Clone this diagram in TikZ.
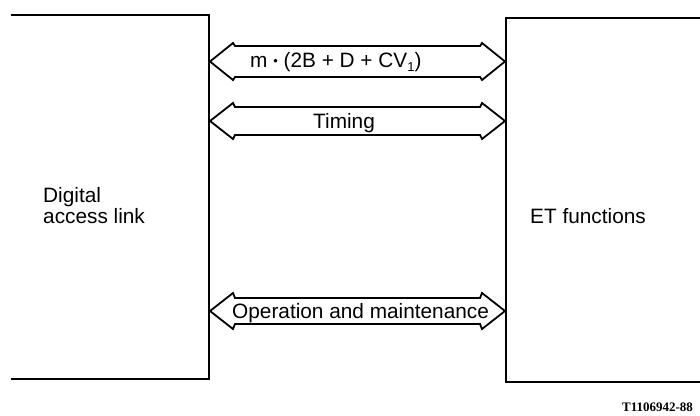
\documentclass[tikz,border=0pt]{standalone}
\usepackage{fontspec}
\setmainfont{Liberation Sans}
\newfontfamily\labelfont{Liberation Serif}
\begin{document}
\begin{tikzpicture}[x=1pt,y=-1pt,
  boxline/.style={line width=2.6pt,line cap=rect},
  dblarrow/.style={line width=1.8pt,line join=miter},
  lbl/.style={inner sep=0pt,anchor=base west,font=\fontsize{20.8}{21}\selectfont},
  tag/.style={inner sep=0pt,anchor=base west,font=\labelfont\bfseries\fontsize{13}{13}\selectfont}]
\useasboundingbox (0,0) rectangle (700,415);
% left box (open on the left)
\coordinate (LTL) at (12,15);
\coordinate (LTR) at (209,15);
\coordinate (LBR) at (209,379);
\coordinate (LBL) at (12,379);
\draw[boxline] (LTL) -- (LTR) -- (LBR) -- (LBL);
% right box (open on the right)
\coordinate (RTR) at (700,18);
\coordinate (RTL) at (506,18);
\coordinate (RBL) at (506,382);
\coordinate (RBR) at (700,382);
\draw[boxline] (RTR) -- (RTL) -- (RBL) -- (RBR);
% double arrows: #1 mid y, #2 shaft half, #3 head half
\newcommand\twoway[4]{%
  \draw[dblarrow] (210,#1) coordinate (#4-l)
    -- (233,#1-#3) -- (235,#1-#2) -- (480,#1-#2) -- (482,#1-#3)
    -- (505,#1) coordinate (#4-r)
    -- (482,#1+#3) -- (480,#1+#2) -- (235,#1+#2) -- (233,#1+#3) -- cycle;}
\twoway{61.5}{15.5}{18.5}{a}
\twoway{121}{14}{18}{b}
\twoway{311}{13}{18}{c}
% labels
\node[lbl] (ta) at (250,67) {m \raisebox{2pt}{\fontsize{13}{13}\selectfont •} (2B + D + CV\raisebox{-4pt}{\fontsize{13}{13}\selectfont 1})};
\node[lbl] (tb) at (313,128) {Timing};
\node[lbl] (tc) at (232,318) {Operation and maintenance};
\node[lbl,align=left,anchor=base west] (dal) at (43,223) {Digital\\access link};
\node[lbl] (et) at (530,223) {ET functions};
\node[tag] (id) at (622,411) {T1106942-88};
\end{tikzpicture}
\end{document}
